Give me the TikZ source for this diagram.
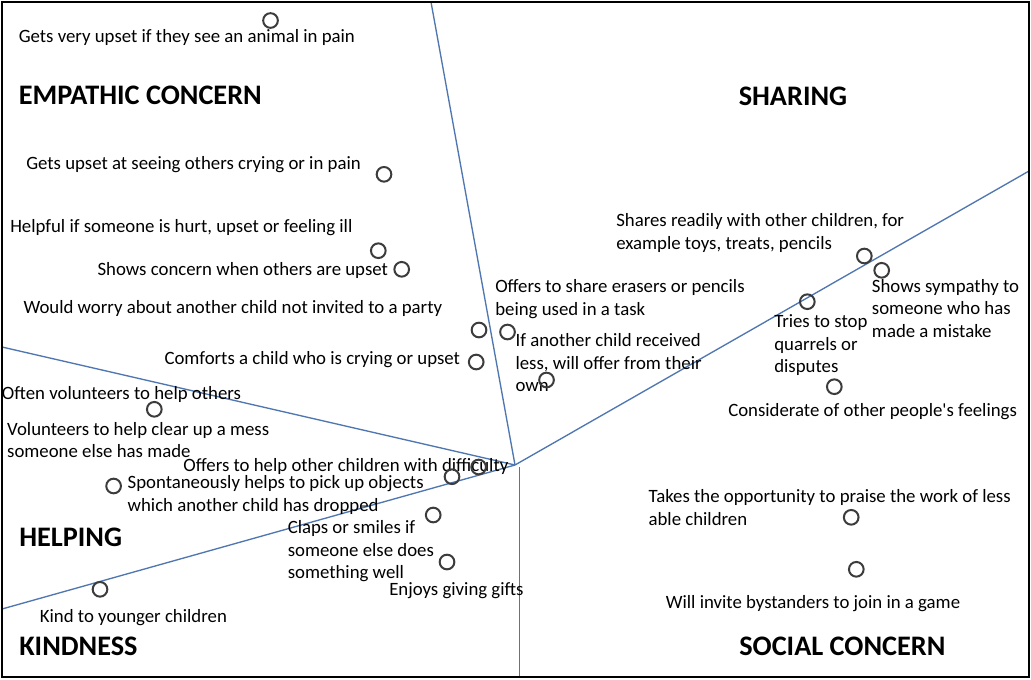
\documentclass[tikz,border=0pt]{standalone}
\usepackage{fontspec}
\setmainfont{Carlito}
\definecolor{divline}{HTML}{4F76B0}
\definecolor{ringcol}{HTML}{3C3C3C}
\begin{document}
\begin{tikzpicture}[x=0.75pt,y=-0.75pt,
  item/.style={anchor=base west,inner sep=0pt,align=left,font=\fontsize{14.1}{16.8}\selectfont},
  heading/.style={anchor=base west,inner sep=0pt,font=\fontsize{21.2}{25}\selectfont\bfseries},
  ring/.style={circle,draw=ringcol,line width=1.5pt,minimum size=11pt,inner sep=0pt},
  divider/.style={draw=divline,line width=1pt}]
\useasboundingbox (0,0) rectangle (1031,679);
\fill[white] (0,0) rectangle (1031,679);
% dividing lines
\coordinate (c) at (515,465);
\coordinate (cv) at (519.5,467);
\coordinate (top) at (431,2);
\coordinate (right) at (1029,171);
\coordinate (leftup) at (2,347);
\coordinate (leftlow) at (2,609);
\coordinate (bottom) at (519.5,677);
\draw[divider] (top) -- (c);
\draw[divider] (c) -- (right);
\draw[divider] (leftup) -- (c);
\draw[divider] (leftlow) -- (c);
\draw[divider] (cv) -- (bottom);
% frame
\draw[black,line width=1.6pt] (2,2) rectangle (1029,677);
% headings
\node[heading] (hemp) at (18.5,104) {EMPATHIC CONCERN};
\node[heading] (hsha) at (738.5,105) {SHARING};
\node[heading] (hhel) at (19,546.5) {HELPING};
\node[heading] (hkin) at (19,655) {KINDNESS};
\node[heading] (hsoc) at (739,655) {SOCIAL CONCERN};
% item texts (multi-line nodes anchored at the baseline of their last line)
\node[item] (t1) at (18.5,42.3) {Gets very upset if they see an animal in pain};
\node[item] (t2) at (26,169.3) {Gets upset at seeing others crying or in pain};
\node[item] (t3) at (10,232.7) {Helpful if someone is hurt, upset or feeling ill};
\node[item] (t4) at (97.3,275) {Shows concern when others are upset};
\node[item] (t5) at (23.3,313.3) {Would worry about another child not invited to a party};
\node[item] (t6) at (164.3,364) {Comforts a child who is crying or upset};
\node[item] (t7) at (495,315) {Offers to share erasers or pencils\\being used in a task};
\node[item] (t8) at (515.3,391.7) {If another child received\\less, will offer from their\\own};
\node[item] (t9) at (616,249) {Shares readily with other children, for\\example toys, treats, pencils};
\node[item] (t10) at (871.7,337.3) {Shows sympathy to\\someone who has\\made a mistake};
\node[item] (t11) at (774,372.7) {Tries to stop\\quarrels or\\disputes};
\node[item] (t12) at (728,416.3) {Considerate of other people\textquotesingle s feelings};
\node[item] (t13) at (1.7,399.3) {Often volunteers to help others};
\node[item] (t14) at (6.9,457.7) {Volunteers to help clear up a mess\\someone else has made};
\node[item] (t15) at (183.2,471) {Offers to help other children with difficulty};
\node[item] (t16) at (127.4,511) {Spontaneously helps to pick up objects\\which another child has dropped};
\node[item] (t17) at (287.5,578.7) {Claps or smiles if\\someone else does\\something well};
\node[item] (t18) at (389,595.3) {Enjoys giving gifts};
\node[item] (t19) at (39.6,622.7) {Kind to younger children};
\node[item] (t20) at (648.3,525) {Takes the opportunity to praise the work of less\\able children};
\node[item] (t21) at (665.6,608.3) {Will invite bystanders to join in a game};
% rings
\node[ring] (r1) at (270.5,20.5) {};
\node[ring] (r2) at (384,174.3) {};
\node[ring] (r3) at (378.3,250.7) {};
\node[ring] (r4) at (401.7,269.3) {};
\node[ring] (r5) at (479,330) {};
\node[ring] (r6) at (507.5,332) {};
\node[ring] (r7) at (476.2,362) {};
\node[ring] (r8) at (546.5,380) {};
\node[ring] (r9) at (154.3,409.3) {};
\node[ring] (r10) at (113.6,486) {};
\node[ring] (r11) at (452,476.7) {};
\node[ring] (r12) at (478.6,467) {};
\node[ring] (r13) at (433.2,515) {};
\node[ring] (r14) at (447,562) {};
\node[ring] (r15) at (100,589.3) {};
\node[ring] (r16) at (864.3,256) {};
\node[ring] (r17) at (881.7,270.3) {};
\node[ring] (r18) at (807.3,301.7) {};
\node[ring] (r19) at (834.3,386.7) {};
\node[ring] (r20) at (851.2,517.3) {};
\node[ring] (r21) at (856.3,569.3) {};
\end{tikzpicture}
\end{document}
